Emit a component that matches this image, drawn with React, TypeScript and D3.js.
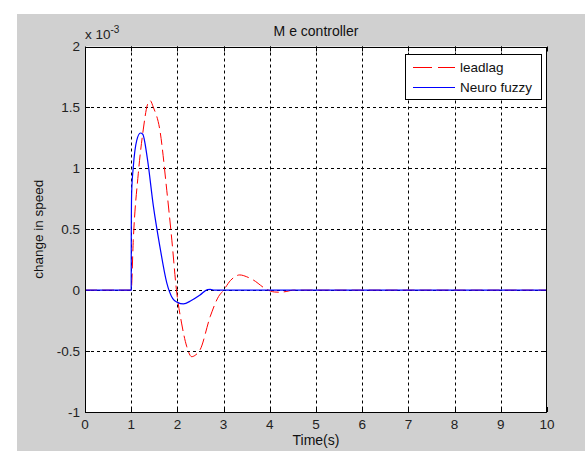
import React, { useEffect, useRef } from 'react';
import * as d3 from 'd3';

// values in units of 1e-3
const leadlagTime = [0, 1, 1.045, 1.154, 1.26, 1.35, 1.41, 1.48, 1.62, 1.77, 1.88, 1.98, 2.09, 2.2, 2.31, 2.4, 2.49, 2.71, 2.89, 3.0, 3.15, 3.35, 3.5, 3.64, 3.93, 4.1, 4.22, 4.37, 4.5, 10];
const leadlagValue = [0, 0, 0.41, 0.96, 1.315, 1.52, 1.556, 1.5, 1.315, 0.82, 0.41, 0, -0.27, -0.46, -0.546, -0.53, -0.49, -0.217, -0.053, 0, 0.08, 0.125, 0.11, 0.084, 0.007, -0.015, -0.017, -0.01, 0, 0];

const neuroTime = [0, 1, 1.002, 1.01, 1.045, 1.12, 1.2, 1.25, 1.35, 1.48, 1.62, 1.77, 1.9, 2.0, 2.13, 2.3, 2.49, 2.65, 2.71, 2.8, 10];
const neuroValue = [0, 0, 0.5, 0.8, 1.01, 1.23, 1.29, 1.28, 1.08, 0.69, 0.36, 0.06, -0.07, -0.1, -0.113, -0.085, -0.04, 0.005, 0.007, 0, 0];

const xTicks = [0, 1, 2, 3, 4, 5, 6, 7, 8, 9, 10];
const yTicks = [-1, -0.5, 0, 0.5, 1, 1.5, 2];
const seriesNames = ['leadlag', 'Neuro fuzzy'];
const seriesColors = ['#ff0000', '#0000ff'];

function App() {
    const svgRef = useRef(null);

    useEffect(() => {
        document.body.style.margin = '0';
        const svg = d3.select(svgRef.current);
        svg.selectAll('*').remove();

        const left = 85, right = 547, top = 46.5, bottom = 412;
        const font = 'Arial, "Liberation Sans", Helvetica, sans-serif';

        svg.append('rect')
            .attr('x', 17).attr('y', 14)
            .attr('width', 585 - 17).attr('height', 451 - 14)
            .attr('fill', '#d0d0d0');

        svg.append('rect')
            .attr('x', left).attr('y', top)
            .attr('width', right - left).attr('height', bottom - top)
            .attr('fill', '#ffffff');

        const x = d3.scaleLinear().domain([0, 10]).range([left, right]);
        const y = d3.scaleLinear().domain([-1, 2]).range([bottom, top]);

        // grid
        const grid = svg.append('g')
            .attr('stroke', '#000')
            .attr('stroke-width', 1)
            .attr('stroke-dasharray', '3,3');
        xTicks.slice(1, -1).forEach(t => {
            grid.append('line')
                .attr('x1', Math.round(x(t)) + 0.5).attr('x2', Math.round(x(t)) + 0.5)
                .attr('y1', top).attr('y2', bottom);
        });
        yTicks.slice(1, -1).forEach(t => {
            grid.append('line')
                .attr('x1', left).attr('x2', right)
                .attr('y1', Math.round(y(t)) + 0.5).attr('y2', Math.round(y(t)) + 0.5);
        });

        // ticks on all four sides
        const ticks = svg.append('g').attr('stroke', '#000').attr('stroke-width', 1);
        xTicks.forEach(t => {
            const px = Math.round(x(t)) + 0.5;
            ticks.append('line').attr('x1', px).attr('x2', px).attr('y1', bottom).attr('y2', bottom - 5);
            ticks.append('line').attr('x1', px).attr('x2', px).attr('y1', top).attr('y2', top + 5);
        });
        yTicks.forEach(t => {
            const py = Math.round(y(t)) + 0.5;
            ticks.append('line').attr('x1', left).attr('x2', left + 5).attr('y1', py).attr('y2', py);
            ticks.append('line').attr('x1', right).attr('x2', right - 5).attr('y1', py).attr('y2', py);
        });

        // lines
        const line = d3.line()
            .x(d => x(d[0]))
            .y(d => y(d[1]))
            .curve(d3.curveMonotoneX);

        const leadlag = leadlagTime.map((t, i) => [t, leadlagValue[i]]);
        const neuro = neuroTime.map((t, i) => [t, neuroValue[i]]);

        const plot = svg.append('g');
        plot.append('path')
            .datum(leadlag)
            .attr('d', line)
            .attr('fill', 'none')
            .attr('stroke', seriesColors[0])
            .attr('stroke-width', 1)
            .attr('stroke-dasharray', '12,5');
        plot.append('path')
            .datum(neuro)
            .attr('d', line)
            .attr('fill', 'none')
            .attr('stroke', seriesColors[1])
            .attr('stroke-width', 1.2);

        // box
        svg.append('rect')
            .attr('x', left + 0.5).attr('y', Math.round(top) + 0.5)
            .attr('width', right - left - 1).attr('height', bottom - Math.round(top))
            .attr('fill', 'none')
            .attr('stroke', '#000')
            .attr('stroke-width', 1);

        // tick labels
        svg.append('g').selectAll('text')
            .data(xTicks)
            .enter().append('text')
            .attr('x', d => x(d))
            .attr('y', 429)
            .attr('text-anchor', 'middle')
            .attr('font-family', font)
            .attr('font-size', 13.5)
            .attr('fill', '#222')
            .text(d => d);

        svg.append('g').selectAll('text')
            .data(yTicks)
            .enter().append('text')
            .attr('x', 80)
            .attr('y', d => y(d) + 4.5)
            .attr('text-anchor', 'end')
            .attr('font-family', font)
            .attr('font-size', 13.5)
            .attr('fill', '#222')
            .text(d => d);

        // exponent
        const expo = svg.append('text')
            .attr('x', 85).attr('y', 39)
            .attr('font-family', font)
            .attr('font-size', 13.5)
            .attr('fill', '#222');
        expo.append('tspan').text('x 10');
        expo.append('tspan').attr('dy', -6).attr('font-size', 10).text('-3');

        // title and labels
        svg.append('text')
            .attr('x', (left + right) / 2).attr('y', 36)
            .attr('text-anchor', 'middle')
            .attr('font-family', font)
            .attr('font-size', 14)
            .attr('fill', '#111')
            .text('M e controller');

        svg.append('text')
            .attr('x', (left + right) / 2).attr('y', 445)
            .attr('text-anchor', 'middle')
            .attr('font-family', font)
            .attr('font-size', 14)
            .attr('fill', '#111')
            .text('Time(s)');

        svg.append('text')
            .attr('transform', `translate(43,${(top + bottom) / 2}) rotate(-90)`)
            .attr('text-anchor', 'middle')
            .attr('font-family', font)
            .attr('font-size', 13.5)
            .attr('fill', '#111')
            .text('change in speed');

        // legend
        const legend = svg.append('g');
        legend.append('rect')
            .attr('x', 405.5).attr('y', 54.5)
            .attr('width', 136).attr('height', 45)
            .attr('fill', '#fff')
            .attr('stroke', '#000');
        seriesNames.forEach((name, i) => {
            const ly = 67 + i * 20;
            legend.append('line')
                .attr('x1', 413).attr('x2', 455)
                .attr('y1', ly + 0.5).attr('y2', ly + 0.5)
                .attr('stroke', seriesColors[i])
                .attr('stroke-width', 1)
                .attr('stroke-dasharray', i === 0 ? '19,6' : null);
            legend.append('text')
                .attr('x', 460).attr('y', ly + 5)
                .attr('font-family', font)
                .attr('font-size', 13.5)
                .attr('fill', '#111')
                .text(name);
        });
    }, []);

    return (
        <div style={{ position: 'absolute', left: 0, top: 0 }}>
            <svg ref={svgRef} width={585} height={451} style={{ display: 'block', background: '#fff' }}></svg>
        </div>
    );
}

export default App;
